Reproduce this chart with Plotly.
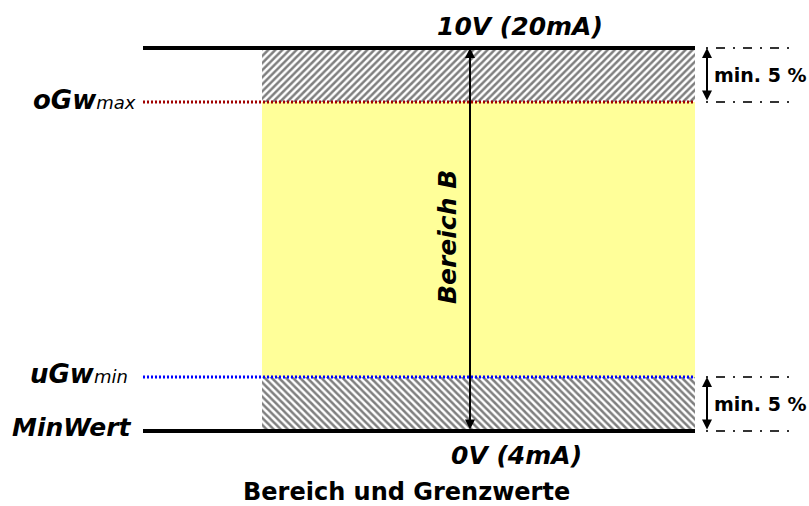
import plotly.graph_objects as go

# ---- data (levels of the signal range, in % of full scale) ----
level_names = ["MinWert", "uGw_min", "oGw_max", "Max"]
level_values = [0.0, 14.1, 85.9, 100.0]
range_labels = ["10V (20mA)", "0V (4mA)"]
band_label = "Bereich B"
margin_label = "min. 5 %"
title_text = "Bereich und Grenzwerte"

v_min, v_ugw, v_ogw, v_max = level_values

# ---- layout constants (pixel-like x scale, y scale mapped to %) ----
W, H = 809, 506
Y0_PX, PX_PER_UNIT = 431.0, 3.83
def py2v(p):
    return (Y0_PX - p) / PX_PER_UNIT

X_LINE_START, X_BAND_START, X_BAND_END = 143, 262, 695
X_ARROW = 470
X_DIM_START, X_DIM_END, X_DIM_ARROW = 706, 790, 707

FONT = "DejaVu Sans"

fig = go.Figure()

# yellow range B
band_c = (X_BAND_START + X_BAND_END) / 2
band_w = X_BAND_END - X_BAND_START
fig.add_trace(go.Bar(x=[band_c], y=[v_ogw - v_ugw], base=[v_ugw], width=[band_w],
                     marker=dict(color="#FFFF99", line=dict(width=0)),
                     hoverinfo="skip", showlegend=False))
# hatched margins
fig.add_trace(go.Bar(x=[band_c], y=[v_max - v_ogw], base=[v_ogw], width=[band_w],
                     marker=dict(color="white", line=dict(width=0),
                                 pattern=dict(shape="/", fgcolor="black", bgcolor="white",
                                              size=5, solidity=0.5)),
                     hoverinfo="skip", showlegend=False))
fig.add_trace(go.Bar(x=[band_c], y=[v_ugw - v_min], base=[v_min], width=[band_w],
                     marker=dict(color="white", line=dict(width=0),
                                 pattern=dict(shape="\\", fgcolor="black", bgcolor="white",
                                              size=5, solidity=0.5)),
                     hoverinfo="skip", showlegend=False))

# level lines
fig.add_trace(go.Scatter(x=[X_LINE_START, X_BAND_END], y=[v_max, v_max], mode="lines",
                         line=dict(color="black", width=4), hoverinfo="skip", showlegend=False))
fig.add_trace(go.Scatter(x=[X_LINE_START, X_BAND_END], y=[v_min, v_min], mode="lines",
                         line=dict(color="black", width=4), hoverinfo="skip", showlegend=False))
fig.add_trace(go.Scatter(x=[X_LINE_START, X_BAND_END], y=[v_ogw, v_ogw], mode="lines",
                         line=dict(color="#A00000", width=3, dash="2px,2px"),
                         hoverinfo="skip", showlegend=False))
fig.add_trace(go.Scatter(x=[X_LINE_START, X_BAND_END], y=[v_ugw, v_ugw], mode="lines",
                         line=dict(color="#0000FF", width=3, dash="2px,2px"),
                         hoverinfo="skip", showlegend=False))

# dimension (dash-dot) lines on the right
for v in level_values:
    fig.add_trace(go.Scatter(x=[X_DIM_START, X_DIM_END], y=[v, v], mode="lines",
                             line=dict(color="#333333", width=2, dash="2px,8px,9px,8px"),
                             hoverinfo="skip", showlegend=False))

annotations = []
# main double arrow
annotations.append(dict(x=X_ARROW, y=v_max, ax=X_ARROW, ay=v_min, xref="x", yref="y",
                        axref="x", ayref="y", text="", showarrow=True, arrowhead=2,
                        arrowside="end+start", arrowsize=1, arrowwidth=2, arrowcolor="black",
                        standoff=0, startstandoff=0))
# dimension arrows
for lo, hi in [(v_ogw, v_max), (v_min, v_ugw)]:
    annotations.append(dict(x=X_DIM_ARROW, y=hi, ax=X_DIM_ARROW, ay=lo, xref="x", yref="y",
                            axref="x", ayref="y", text="", showarrow=True, arrowhead=2,
                            arrowside="end+start", arrowsize=1, arrowwidth=2,
                            arrowcolor="black", standoff=0, startstandoff=0))
    annotations.append(dict(x=712, y=(lo + hi) / 2, xref="x", yref="y", text="<b>%s</b>" % margin_label,
                            showarrow=False, xanchor="left", yanchor="middle",
                            font=dict(family=FONT, size=19, color="black")))

# level labels
annotations.append(dict(x=138, y=py2v(100), xref="x", yref="y",
                        text="<b>oGw</b><span style='font-size:18px'>max</span>",
                        showarrow=False, xanchor="right", yanchor="middle",
                        font=dict(family=FONT, size=26, color="black", style="italic")))
annotations.append(dict(x=130, y=py2v(374), xref="x", yref="y",
                        text="<b>uGw</b><span style='font-size:18px'>min</span>",
                        showarrow=False, xanchor="right", yanchor="middle",
                        font=dict(family=FONT, size=26, color="black", style="italic")))
annotations.append(dict(x=134, y=py2v(427), xref="x", yref="y",
                        text="<b>%s</b>" % level_names[0],
                        showarrow=False, xanchor="right", yanchor="middle",
                        font=dict(family=FONT, size=25, color="black", style="italic")))
annotations.append(dict(x=520, y=py2v(26), xref="x", yref="y", text="<b>%s</b>" % range_labels[0],
                        showarrow=False, xanchor="center", yanchor="middle",
                        font=dict(family=FONT, size=25, color="black", style="italic")))
annotations.append(dict(x=516, y=py2v(455), xref="x", yref="y", text="<b>%s</b>" % range_labels[1],
                        showarrow=False, xanchor="center", yanchor="middle",
                        font=dict(family=FONT, size=25, color="black", style="italic")))
annotations.append(dict(x=447, y=py2v(237), xref="x", yref="y", text="<b>%s</b>" % band_label,
                        showarrow=False, xanchor="center", yanchor="middle", textangle=-90,
                        font=dict(family=FONT, size=25, color="black", style="italic")))
annotations.append(dict(x=406, y=py2v(492), xref="x", yref="y", text="<b>%s</b>" % title_text,
                        showarrow=False, xanchor="center", yanchor="middle",
                        font=dict(family=FONT, size=24, color="black")))

fig.update_layout(
    width=W, height=H, autosize=False,
    margin=dict(l=0, r=0, t=0, b=0, pad=0),
    paper_bgcolor="white", plot_bgcolor="white",
    barmode="overlay", bargap=0,
    xaxis=dict(range=[0, W], visible=False, fixedrange=True),
    yaxis=dict(range=[py2v(H), py2v(0)], visible=False, fixedrange=True),
    annotations=annotations,
    showlegend=False,
)

# remove the browser's default page margin so the figure sits at the window's top-left
fig.write_html("out.html", config={"displayModeBar": False},
               post_script="document.body.style.margin='0';")
